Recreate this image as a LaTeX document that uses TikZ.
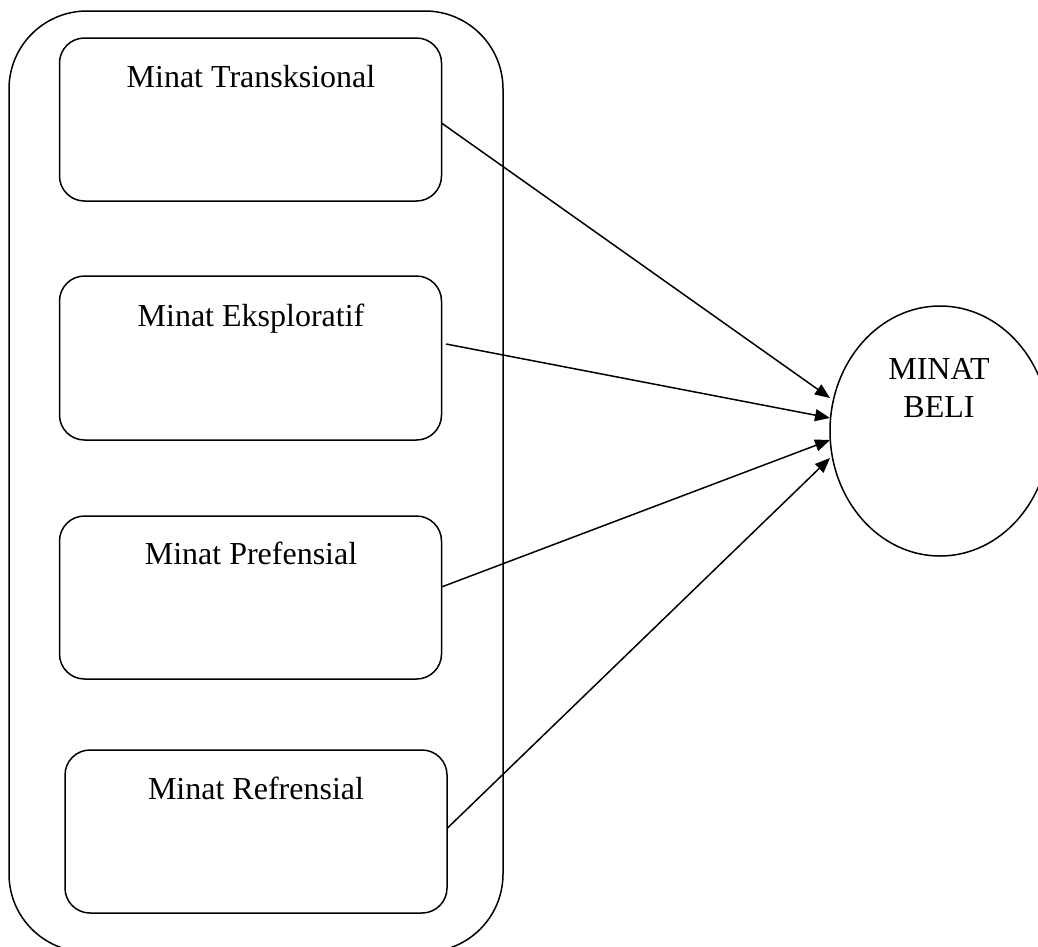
\documentclass[tikz,border=0pt]{standalone}
\usepackage{fontspec}
\setmainfont{Liberation Serif}
\usetikzlibrary{arrows.meta,shapes.geometric}
\tikzset{
  line/.style={line width=1.5pt, draw=black},
  card/.style={line, rectangle, rounded corners=25pt, inner sep=0pt, outer sep=0pt,
               minimum width=382pt, minimum height=163pt},
  lbl/.style={anchor=base, inner sep=0pt, font=\fontsize{32pt}{38pt}\selectfont},
  arr/.style={line, -{Triangle[length=15pt,width=12pt]}},
}
\begin{document}
\begin{tikzpicture}[x=1pt,y=-1pt]
\clip (0,0) rectangle (1038,946);
\fill[white] (0,0) rectangle (1038,946);
% outer frame
\node[line, rectangle, rounded corners=78pt, inner sep=0pt, outer sep=0pt,
      minimum width=494pt, minimum height=941pt] (frame) at (256,481.5) {};
% boxes
\node[card] (b1) at (250.5,119.5) {};
\node[card, minimum height=164pt] (b2) at (250.5,358) {};
\node[card] (b3) at (250.5,597.5) {};
\node[card] (b4) at (256,831.5) {};
% box texts
\node[lbl] (t1) at (251,87) {Minat Transksional};
\node[lbl] (t2) at (251,326) {Minat Eksploratif};
\node[lbl] (t3) at (251,564) {Minat Prefensial};
\node[lbl] (t4) at (256,799) {Minat Refrensial};
% ellipse
\node[line, ellipse, inner sep=0pt, outer sep=0pt, minimum width=220pt, minimum height=250pt] (e) at (940,431) {};
\node[lbl] (m1) at (939,379) {MINAT};
\node[lbl] (m2) at (939,417) {BELI};
% connectors
\coordinate (s1) at ([yshift=-3.5pt]b1.east);
\coordinate (s2) at ([xshift=4.5pt,yshift=14pt]b2.east);
\coordinate (s3) at ([yshift=10.5pt]b3.east);
\coordinate (s4) at ([xshift=0.5pt,yshift=3.5pt]b4.east);
\draw[arr] (s1) -- ([yshift=33pt]e.west);
\draw[arr] (s2) -- ([yshift=13pt]e.west);
\draw[arr] (s3) -- ([yshift=-9pt]e.west);
\draw[arr] (s4) -- ([yshift=-27pt]e.west);
\end{tikzpicture}
\end{document}
